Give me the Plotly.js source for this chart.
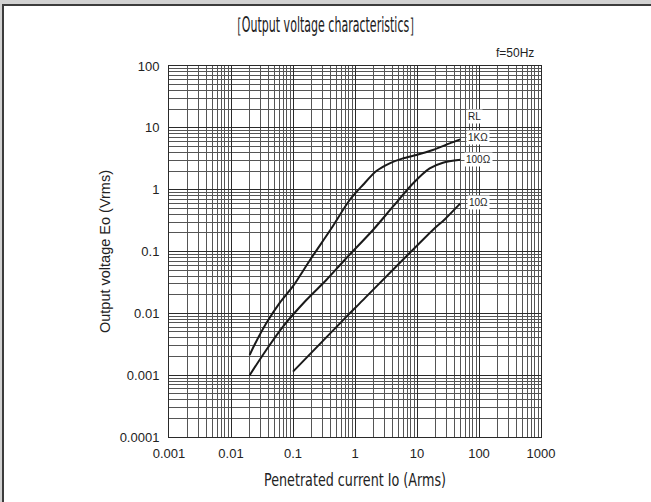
<!DOCTYPE html>
<html>
<head>
<meta charset="utf-8">
<script src="https://cdn.plot.ly/plotly-3.0.1.min.js"></script>
<style>
  html, body { margin: 0; padding: 0; background: #ffffff; }
  #frame { position: absolute; left: 0; top: 0; width: 651px; height: 502px; background: #d2d2d2; }
  #inner { position: absolute; left: 2px; top: 4px; width: 649px; height: 498px; background: #ffffff;
           border-top: 2px solid #3c3c3c; border-left: 2px solid #3c3c3c; box-sizing: border-box; }
  #chart { position: absolute; left: 0; top: 0; width: 651px; height: 502px; }
</style>
</head>
<body>
<div id="frame"><div id="inner"></div></div>
<div id="chart"></div>
<script>
// Penetrated current Io (Arms) and Output voltage Eo (Vrms), per load RL
const current1k = [0.02, 0.024, 0.037, 0.061, 0.1, 0.185, 0.42, 0.82, 1.34, 2.21, 3.62, 5.93, 9.75, 18, 33.6, 50];
const volt1k    = [0.00212, 0.0031, 0.0069, 0.0148, 0.0275, 0.071, 0.24, 0.68, 1.19, 2.0, 2.67, 3.21, 3.64, 4.38, 5.6, 6.5];

const current100 = [0.02, 0.037, 0.069, 0.164, 0.344, 0.68, 1.95, 4.08, 8.6, 16, 26.2, 50];
const volt100    = [0.001, 0.00255, 0.0061, 0.0164, 0.0346, 0.073, 0.223, 0.53, 1.26, 2.21, 2.73, 3.05];

const current10 = [0.1, 0.82, 1.19, 18, 27.9, 50];
const volt10    = [0.00114, 0.01, 0.0145, 0.223, 0.33, 0.6];

const seriesNames = ["1KΩ", "100Ω", "10Ω"];

const xTickVals = [0.001, 0.01, 0.1, 1, 10, 100, 1000];
const xTickText = ["0.001", "0.01", "0.1", "1", "10", "100", "1000"];
const yTickVals = [0.0001, 0.001, 0.01, 0.1, 1, 10, 100];
const yTickText = ["0.0001", "0.001", "0.01", "0.1", "1", "10", "100"];

const lineStyle = { color: "#1a1a1a", width: 2, shape: "spline", smoothing: 0.8 };

const traces = [
  { x: current1k, y: volt1k, name: seriesNames[0], mode: "lines", line: lineStyle, hoverinfo: "x+y+name" },
  { x: current100, y: volt100, name: seriesNames[1], mode: "lines", line: lineStyle, hoverinfo: "x+y+name" },
  { x: current10, y: volt10, name: seriesNames[2], mode: "lines", line: lineStyle, hoverinfo: "x+y+name" }
];

const gridCommon = {
  type: "log",
  showgrid: true,
  gridcolor: "#2a2a2a",
  gridwidth: 1,
  showline: true,
  linecolor: "#2a2a2a",
  linewidth: 1,
  mirror: true,
  zeroline: false,
  ticks: "",
  tickfont: { family: "Liberation Sans, Arial, sans-serif", size: 13, color: "#222" },
  minor: { dtick: "D1", showgrid: true, gridcolor: "#555555", gridwidth: 0.8, ticks: "" }
};

const labelFont = { family: "Liberation Sans, Arial, sans-serif", size: 10, color: "#222" };
const condensedFamily = "DejaVu Sans Condensed, Liberation Sans Narrow, Liberation Sans, Arial, sans-serif";

const layout = {
  width: 651,
  height: 502,
  margin: { l: 169, r: 110, t: 66, b: 65 },
  paper_bgcolor: "rgba(0,0,0,0)",
  plot_bgcolor: "#ffffff",
  showlegend: false,
  title: {
    text: "［Output voltage characteristics］",
    font: { family: condensedFamily, size: 21, color: "#222" },
    x: 0.5, xref: "container", xanchor: "center",
    y: 0.95, yref: "container", yanchor: "middle"
  },
  xaxis: Object.assign({}, gridCommon, {
    range: [-3, 3],
    tickvals: xTickVals,
    ticktext: xTickText,
    ticklabelstandoff: 4,
    title: {
      text: "Penetrated current Io (Arms)",
      font: { family: condensedFamily, size: 18, color: "#222" },
      standoff: 13
    }
  }),
  yaxis: Object.assign({}, gridCommon, {
    range: [-4, 2],
    tickvals: yTickVals,
    ticktext: yTickText,
    ticklabelstandoff: 6,
    title: {
      text: "Output voltage Eo (Vrms)",
      font: { family: "Liberation Sans, Arial, sans-serif", size: 14.5, color: "#222" },
      standoff: 5
    }
  }),
  annotations: [
    { text: "f=50Hz", xref: "paper", yref: "paper", x: 0.9866, y: 1.035, xanchor: "right", yanchor: "middle",
      showarrow: false, font: { family: "Liberation Sans, Arial, sans-serif", size: 12, color: "#222" } },
    { text: "RL", xref: "x", yref: "y", x: Math.log10(61), y: Math.log10(15), xanchor: "left", yanchor: "middle",
      showarrow: false, font: labelFont, bgcolor: "#ffffff", borderpad: 1 },
    { text: seriesNames[0], xref: "x", yref: "y", x: Math.log10(61), y: Math.log10(7.1), xanchor: "left", yanchor: "middle",
      showarrow: false, font: labelFont, bgcolor: "#ffffff", borderpad: 1 },
    { text: seriesNames[1], xref: "x", yref: "y", x: Math.log10(58), y: Math.log10(3.13), xanchor: "left", yanchor: "middle",
      showarrow: false, font: labelFont, bgcolor: "#ffffff", borderpad: 1 },
    { text: seriesNames[2], xref: "x", yref: "y", x: Math.log10(63), y: Math.log10(0.63), xanchor: "left", yanchor: "middle",
      showarrow: false, font: labelFont, bgcolor: "#ffffff", borderpad: 1 }
  ]
};

function condense(selector, targetWidth) {
  const el = document.querySelector(selector);
  if (!el || !el.getComputedTextLength) return;
  const w = el.getComputedTextLength();
  if (w > targetWidth) {
    el.setAttribute("textLength", String(targetWidth));
    el.setAttribute("lengthAdjust", "spacingAndGlyphs");
  }
}

Plotly.newPlot("chart", traces, layout, { displayModeBar: false }).then(function () {
  condense(".gtitle", 192);
  condense(".xtitle", 182);
});
</script>
</body>
</html>
